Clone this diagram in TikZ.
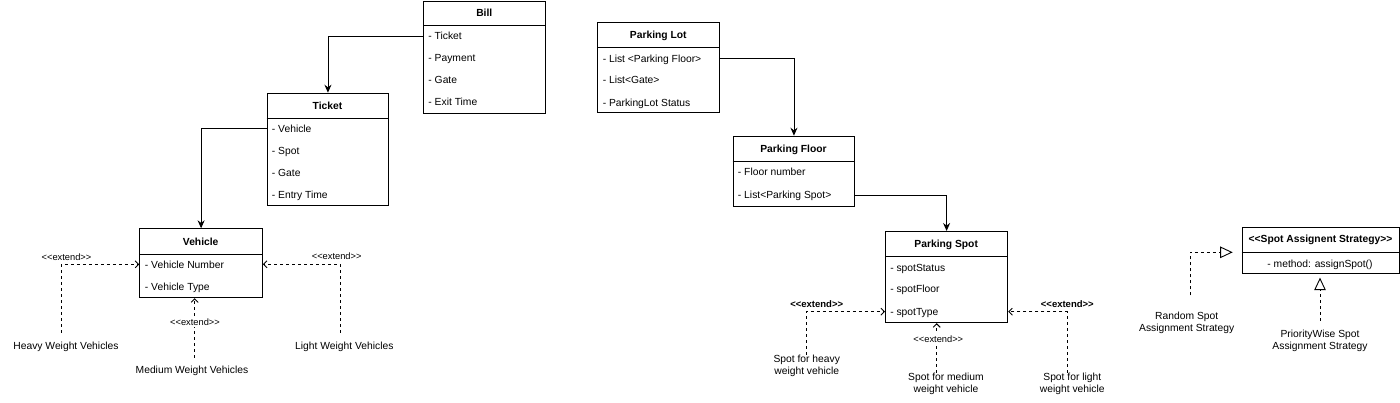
\documentclass[tikz,border=0pt]{standalone}
\usepackage{fontspec}
\setmainfont{Liberation Sans}
\usetikzlibrary{arrows.meta}
\newcommand\extxt{<\kern0pt<extend>\kern0pt>}
\begin{document}
\begin{tikzpicture}[x=1pt,y=-1pt,
  line width=0.9pt,
  box/.style={draw, fill=white, inner sep=0pt, anchor=north west},
  ttl/.style={font=\fontsize{10.3}{11.7}\selectfont\bfseries, inner sep=0pt, text height=7.4pt, text depth=0pt},
  row/.style={font=\fontsize{10.3}{11.7}\selectfont, anchor=west, inner sep=0pt, text height=7.4pt, text depth=0pt},
  lbl/.style={font=\fontsize{10.3}{11.7}\selectfont, inner sep=0pt, text height=7.4pt, text depth=0pt},
  lbl2/.style={font=\fontsize{10.3}{11.7}\selectfont, inner sep=0pt, align=center},
  extl/.style={font=\fontsize{9.3}{11}\selectfont, inner sep=1pt, text height=6.7pt, text depth=0pt},
  extb/.style={font=\fontsize{9.5}{11}\selectfont\bfseries, inner sep=1pt, text height=6.8pt, text depth=0pt},
  arr/.style={-{Stealth[length=8pt,width=7pt]}},
  ext/.style={dash pattern=on 3pt off 3pt, -{Straight Barb[length=3.5pt,width=7pt]}},
  real/.style={dash pattern=on 3pt off 3pt, -{Triangle[open,length=12.5pt,width=11.5pt,fill=white]}},
]
\useasboundingbox (0,0) rectangle (1400,402);

% Bill
\node[box, minimum width=122pt, minimum height=112pt] (bill) at (423.3,0.5) {};
\draw (423.3,25) -- (545.3,25);
\node[ttl] (billt) at (484.3,12.7) {Bill};
\node[row] (b1) at (428,36) {- Ticket};
\node[row] (b2) at (428,58) {- Payment};
\node[row] (b3) at (428,80) {- Gate};
\node[row] (b4) at (428,101.7) {- Exit Time};

% Ticket
\node[box, minimum width=121.6pt, minimum height=112.3pt] (tic) at (266.7,92.7) {};
\draw (266.7,118.3) -- (388.3,118.3);
\node[ttl] (tict) at (327.5,105.3) {Ticket};
\node[row] (t1) at (271.5,128.7) {- Vehicle};
\node[row] (t2) at (271.5,150.7) {- Spot};
\node[row] (t3) at (271.5,172.7) {- Gate};
\node[row] (t4) at (271.5,194.3) {- Entry Time};

% Vehicle
\node[box, minimum width=122.7pt, minimum height=69pt] (veh) at (139.3,228.3) {};
\draw (139.3,254) -- (262,254);
\node[ttl] (veht) at (200.7,241.3) {Vehicle};
\node[row] (v1) at (144.5,264.3) {- Vehicle Number};
\node[row] (v2) at (144.5,286.7) {- Vehicle Type};

\draw[arr] (bill.west |- b1) -| (tic.north);
\draw[arr] (tic.west |- t1) -| (veh.north);

% vehicle subtypes
\node[lbl] (hv) at (66,346) {Heavy Weight Vehicles};
\node[lbl] (lv) at (344.3,346) {Light Weight Vehicles};
\node[lbl] (mv) at (192,370) {Medium Weight Vehicles};
\coordinate (hvc) at ([xshift=-4.7pt,yshift=9pt]hv.north);
\coordinate (lvc) at ([xshift=-4.3pt,yshift=9pt]lv.north);
\coordinate (mvc) at ([xshift=2.7pt,yshift=8pt]mv.north);
\draw[ext] (hvc) |- (veh.west |- v1);
\draw[ext] (lvc) |- (veh.east |- v1);
\draw[ext] (mvc) -- (mvc |- veh.south);
\node[extl] (e1) at (66.5,257.5) {\extxt};
\node[extl] (e2) at (336.7,255.7) {\extxt};
\node[extl, fill=white] (e3) at (195,322.3) {\extxt};

% Parking lot
\node[box, minimum width=122pt, minimum height=90pt] (lot) at (597.3,22.3) {};
\draw (597.3,47.3) -- (719.3,47.3);
\node[ttl] (lott) at (658.3,35) {Parking Lot};
\node[row] (l1) at (602.3,58.3) {- List <Parking Floor>};
\node[row] (l2) at (602.3,80) {- List<Gate>};
\node[row] (l3) at (602.3,102.3) {- ParkingLot Status};

% Parking floor
\node[box, minimum width=121.6pt, minimum height=70pt] (flo) at (732.7,135.7) {};
\draw (732.7,161) -- (854.3,161);
\node[ttl] (flot) at (793.5,148.3) {Parking Floor};
\node[row] (f1) at (737.5,171.7) {- Floor number};
\node[row] (f2) at (737.5,195) {- List<Parking Spot>};

% Parking spot
\node[box, minimum width=122.3pt, minimum height=91.3pt] (spot) at (885,231) {};
\draw (885,256.7) -- (1007.3,256.7);
\node[ttl] (spott) at (946.2,244) {Parking Spot};
\node[row] (s1) at (889.8,267.7) {- spotStatus};
\node[row] (s2) at (889.8,289) {- spotFloor};
\node[row] (s3) at (889.8,311.7) {- spotType};

\draw[arr] (lot.east |- l1) -| (flo.north);
\draw[arr] (flo.east |- f2) -| (spot.north);

% spot subtypes
\node[lbl2] (sh) at (806.7,366) {Spot for heavy\\weight vehicle};
\node[lbl2] (sm) at (946,383.8) {Spot for medium\\weight vehicle};
\node[lbl2] (sl) at (1072.3,383.8) {Spot for light\\weight vehicle};
\coordinate (shc) at ([xshift=-0.7pt]sh.north);
\coordinate (smc) at ([xshift=-9.3pt]sm.north);
\coordinate (slc) at ([xshift=-5pt]sl.north);
\draw[ext] (shc) |- (spot.west |- s3);
\draw[ext] (slc) |- (spot.east |- s3);
\draw[ext] (smc) -- (smc |- spot.south);
\node[extb] (e4) at (816.7,304.3) {\extxt};
\node[extb] (e5) at (1067.3,304.3) {\extxt};
\node[extl, fill=white] (e6) at (938.3,338.7) {\extxt};

% Strategy
\node[box, minimum width=157.6pt, minimum height=46.6pt] (strat) at (1241.7,226.7) {};
\draw (1241.7,252.3) -- (1399.3,252.3);
\coordinate (sthd) at (1241.7,252.3);
\node[ttl] (stt) at (1320.5,239) {<\kern0pt<Spot Assignent Strategy>\kern0pt>};
\node[lbl] (stm) at (1320,263.3) {- method: assignSpot()};

\node[lbl2] (rs) at (1186.7,322.5) {Random Spot\\Assignment Strategy};
\node[lbl2] (ps) at (1320,340.8) {PriorityWise Spot\\Assignment Strategy};
\coordinate (rsc) at ([xshift=3.3pt,yshift=16pt]rs.north);
\coordinate (psc) at ([yshift=9.2pt]ps.north);
\draw[real, shorten >=9pt] (rsc) |- (sthd);
\draw[real, shorten >=3.4pt] (psc) -- (psc |- strat.south);
\end{tikzpicture}
\end{document}
